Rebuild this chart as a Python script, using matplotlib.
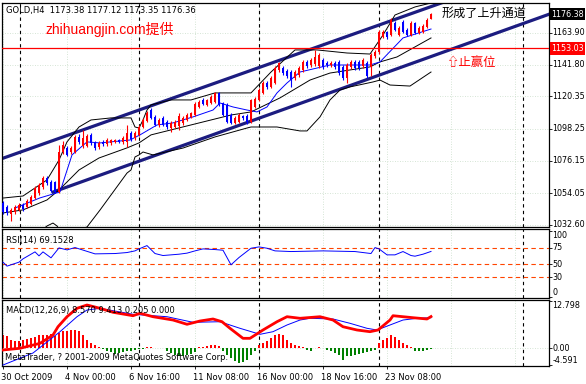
import matplotlib
matplotlib.use('Agg')
from matplotlib import pyplot as plt

plt.rcParams['font.family'] = ['DejaVu Sans', 'Noto Sans CJK SC']
plt.rcParams['font.size'] = 6

# GOLD H4 candles, bar 0 = 30 Oct 2009
opens = [1047.3, 1044.6, 1039.8, 1041.2, 1042.6, 1046.0, 1044.6, 1046.7, 1050.8, 1054.2,
         1058.3, 1064.4, 1061.7, 1061.7, 1054.9, 1082.2, 1085.0, 1082.2, 1082.2, 1092.5,
         1086.3, 1086.3, 1093.9, 1088.4, 1085.7, 1089.1, 1087.7, 1088.4, 1089.1, 1090.4,
         1089.1, 1089.1, 1095.2, 1091.8, 1093.9, 1099.3, 1103.4, 1110.9, 1106.2, 1100.7,
         1105.5, 1102.8, 1098.6, 1099.3, 1100.0, 1102.1, 1104.1, 1106.2, 1107.5, 1113.0,
         1117.8, 1114.4, 1115.7, 1116.4, 1122.6, 1115.7, 1114.4, 1107.5, 1102.1, 1102.8,
         1106.9, 1106.9, 1102.8, 1113.0, 1117.8, 1122.6, 1129.4, 1126.7, 1129.4, 1138.3,
         1139.7, 1137.6, 1136.9, 1132.8, 1134.9, 1138.3, 1143.8, 1141.7, 1142.4, 1141.0,
         1145.2, 1143.1, 1141.7, 1143.1, 1143.8, 1140.4, 1132.8, 1140.4, 1143.8, 1143.8,
         1141.0, 1143.1, 1140.4, 1147.9, 1150.6, 1160.9, 1164.3, 1162.2, 1170.4, 1162.2,
         1171.1, 1165.6, 1162.2, 1170.4, 1163.6, 1164.3, 1167.7, 1173.38]
highs = [1048.7, 1046.0, 1043.9, 1046.0, 1047.3, 1047.3, 1050.1, 1052.8, 1059.0, 1061.0,
         1065.8, 1065.8, 1063.1, 1062.4, 1087.0, 1089.8, 1086.3, 1086.3, 1093.9, 1094.5,
         1097.3, 1094.5, 1095.2, 1089.8, 1089.8, 1090.4, 1091.8, 1091.1, 1091.1, 1091.1,
         1093.2, 1100.7, 1096.6, 1096.6, 1100.7, 1105.5, 1110.3, 1112.3, 1107.5, 1105.5,
         1106.9, 1104.1, 1103.4, 1104.1, 1108.9, 1106.9, 1108.9, 1109.6, 1116.4, 1117.8,
         1119.2, 1118.5, 1121.2, 1123.3, 1123.3, 1116.4, 1115.7, 1108.9, 1106.9, 1108.9,
         1107.5, 1108.2, 1118.5, 1119.9, 1126.0, 1130.8, 1130.8, 1134.2, 1141.0, 1143.8,
         1141.0, 1139.0, 1138.3, 1138.3, 1141.0, 1145.2, 1145.2, 1146.5, 1152.0, 1149.9,
         1146.5, 1144.5, 1144.5, 1144.5, 1145.2, 1141.7, 1143.1, 1145.2, 1145.2, 1145.2,
         1146.5, 1144.5, 1149.9, 1152.0, 1165.6, 1165.6, 1165.0, 1173.9, 1171.8, 1168.4,
         1172.5, 1167.0, 1171.8, 1171.1, 1168.4, 1169.7, 1173.9, 1177.12]
lows = [1039.8, 1039.1, 1035.0, 1039.8, 1041.9, 1041.9, 1043.9, 1046.0, 1050.1, 1052.8,
        1056.9, 1059.7, 1054.9, 1054.2, 1054.2, 1080.9, 1079.5, 1080.9, 1081.5, 1087.7,
        1085.0, 1085.7, 1087.0, 1083.6, 1084.3, 1086.3, 1086.3, 1087.0, 1088.4, 1088.4,
        1087.7, 1085.7, 1089.8, 1090.4, 1093.2, 1098.6, 1102.8, 1104.8, 1100.0, 1099.3,
        1100.0, 1098.0, 1095.9, 1098.6, 1097.3, 1100.7, 1103.4, 1105.5, 1106.9, 1112.3,
        1114.4, 1113.7, 1115.1, 1115.7, 1113.7, 1106.9, 1102.1, 1101.4, 1101.4, 1102.1,
        1104.1, 1101.4, 1102.1, 1112.3, 1117.1, 1121.9, 1125.3, 1126.0, 1128.7, 1136.9,
        1134.9, 1132.8, 1126.7, 1131.5, 1133.5, 1136.9, 1139.7, 1140.4, 1141.0, 1139.7,
        1139.0, 1140.4, 1140.4, 1139.0, 1134.9, 1131.5, 1129.4, 1139.0, 1138.3, 1138.3,
        1139.7, 1132.8, 1134.2, 1146.5, 1149.2, 1160.2, 1159.5, 1161.5, 1165.0, 1161.5,
        1163.6, 1161.5, 1161.5, 1162.9, 1162.9, 1163.6, 1167.0, 1173.35]
closes = [1041.2, 1040.5, 1042.6, 1044.6, 1046.0, 1043.2, 1048.7, 1051.5, 1057.6, 1059.7,
          1064.4, 1061.0, 1055.6, 1054.9, 1082.2, 1087.0, 1080.2, 1085.0, 1092.5, 1089.1,
          1091.8, 1093.2, 1088.4, 1085.0, 1088.4, 1087.7, 1090.4, 1090.4, 1090.4, 1089.1,
          1091.8, 1095.2, 1091.1, 1095.2, 1099.3, 1104.1, 1108.9, 1105.5, 1100.7, 1104.1,
          1100.7, 1099.3, 1102.1, 1102.8, 1106.9, 1105.5, 1107.5, 1108.9, 1115.1, 1116.4,
          1115.1, 1117.8, 1119.9, 1122.6, 1114.4, 1107.5, 1102.8, 1102.1, 1105.5, 1107.5,
          1105.5, 1102.8, 1117.8, 1118.5, 1124.6, 1129.4, 1126.7, 1132.8, 1139.7, 1143.1,
          1136.3, 1134.2, 1131.5, 1136.9, 1139.7, 1143.8, 1141.0, 1145.2, 1147.2, 1148.6,
          1140.4, 1141.7, 1143.1, 1140.4, 1136.3, 1132.8, 1141.7, 1143.8, 1139.7, 1139.7,
          1145.2, 1134.2, 1148.6, 1150.6, 1164.3, 1164.3, 1160.9, 1172.5, 1165.6, 1167.0,
          1164.3, 1162.2, 1170.4, 1163.6, 1167.0, 1168.4, 1172.5, 1176.36]

# indicator lines read at sample bars
ma_idx = [3, 9.25, 14.25, 17.25, 21, 24.25, 31.75, 34.25, 38.5, 42.5, 47.5, 52.5, 54.25,
          57.5, 61, 63.5, 66, 68.5, 71, 74.25, 81.75, 91.75, 94.25, 100, 107]
ma_val = [1043.9, 1050.8, 1054.9, 1080.2, 1089.1, 1088.4, 1090.4, 1093.9, 1100.7, 1102.1,
          1106.2, 1110.9, 1115.7, 1113.0, 1110.9, 1109.6, 1113.0, 1122.6, 1129.4, 1136.9,
          1141.7, 1141.7, 1143.8, 1160.2, 1166.3]
bb_up_idx = [0, 5, 8, 11, 14, 16, 19, 22, 27, 31, 32, 33, 34, 35, 36, 37, 42, 47, 53, 62,
             67, 73, 78.5, 86, 91.75, 95, 98, 103, 107]
bb_up_val = [1050.7, 1052.1, 1057.6, 1063.1, 1076.7, 1089.1, 1099.3, 1104.1, 1105.5, 1105.5,
             1105.5, 1099.3, 1098.6, 1104.1, 1110.9, 1114.4, 1117.8, 1117.8, 1122.6, 1122.6,
             1136.9, 1152.0, 1152.0, 1149.9, 1149.2, 1162.2, 1175.9, 1181.4, 1184.1]
bb_mid_idx = [0, 5, 11, 14, 19, 24, 31, 34, 37, 47, 57, 62, 69.25, 76.75, 81.75, 91.75,
              94.25, 98.5, 107]
bb_mid_val = [1040.5, 1042.6, 1049.4, 1056.2, 1069.9, 1078.1, 1085.0, 1088.4, 1093.9, 1100.7,
              1107.5, 1109.6, 1119.2, 1131.4, 1136.2, 1140.4, 1143.8, 1147.2, 1160.2]
bb_lo_idx = [9.25, 11, 12.5, 13.5, 15, 21, 24.25, 31, 32, 33, 34, 35, 37.5, 45, 53, 61, 62,
             68.5, 74.25, 76, 79.25, 81.75, 84.25, 86.75, 92.5, 94.25, 96.75, 101.75, 107]
bb_lo_val = [1027.5, 1031.6, 1033.6, 1031.6, 1025.4, 1030.9, 1042.5, 1067.8, 1069.9, 1078.8,
             1080.2, 1082.2, 1080.2, 1084.9, 1092.5, 1098.6, 1099.3, 1099.3, 1096.6, 1096.6,
             1106.2, 1117.8, 1124.6, 1126.7, 1130.1, 1131.4, 1128.0, 1127.3, 1136.9]

# channel trend lines (bar, price)
chan_up = [(-0.25, 1077.7), (136.5, 1210.2)]
chan_lo = [(12.5, 1054.8), (136.5, 1176.4)]
stop_level = 1153.03
last_price = 1176.38

rsi_idx = [0, 1, 2, 4, 5, 7, 8, 9, 10, 12, 13, 14, 16, 18, 21, 23, 28, 31, 33, 34, 36, 38,
           40, 44, 46, 48, 50, 53, 55, 57, 59, 62, 64, 66, 68, 72, 80, 88, 92, 93, 94, 96,
           98, 100, 102, 103, 105, 107]
rsi_val = [53, 47, 49, 53, 58, 65, 68.5, 62.5, 68.5, 59.5, 67, 74.5, 71.5, 75, 69.3, 65.5,
           66, 67.5, 70, 73, 78, 66, 63, 65, 66.6, 70, 73, 72, 71, 49, 60, 74, 76, 74, 70,
           69, 70, 69, 66, 75, 73, 64, 64, 69, 63, 62, 65, 69.15]
rsi_levels = [75, 50, 30]

macd_idx = [0, 4.25, 9.25, 12.5, 13.75, 16, 18.5, 21, 24.25, 27.5, 32.5, 34.25, 37.5, 42.5,
            46, 49.25, 52.5, 54.75, 56.75, 60, 61.75, 65, 68.5, 71, 74.25, 79.25, 82.5, 85,
            88.5, 91.75, 93.75, 96.75, 97.5, 102.5, 106, 107]
macd_val = [-0.5, -0.05, 1.30, 3.56, 5.81, 8.53, 10.81, 11.71, 10.81, 9.73, 8.80, 9.46, 8.53,
            7.63, 6.47, 7.36, 7.91, 7.17, 5.38, 2.66, 2.66, 4.92, 7.17, 8.53, 8.10, 8.53,
            7.63, 5.81, 4.92, 4.46, 4.92, 7.63, 8.80, 8.26, 7.91, 8.57]
sig_idx = [0, 7.5, 14.25, 18.5, 21, 24.25, 32.5, 41, 47.5, 54.25, 59.25, 64.25, 67.5, 71,
           74.25, 76.75, 82.5, 86.75, 91, 93.5, 96.75, 100, 103.5, 107]
sig_val = [-4.59, -1.33, 4.46, 8.53, 10.35, 10.81, 9.18, 8.53, 7.01, 7.17, 5.38, 3.75, 4.46,
           6.28, 7.63, 8.10, 7.91, 6.74, 5.38, 4.92, 6.28, 7.63, 8.10, 8.26]
hist = [3.62, 3.17, 2.27, 1.81, 1.81, 2.27, 2.45, 2.72, 2.90, 3.44, 3.62, 3.44, 3.81, 3.17,
        4.08, 4.71, 4.71, 4.98, 4.98, 4.53, 3.62, 2.27, 1.36, 0.72, 0.18, -0.18, -0.91, -1.18,
        -1.63, -1.45, -1.09, -0.91, -0.72, -0.45, -0.27, -0.18, 0.27, 0.27, 0.05, 0.05, -0.09,
        -0.72, -1.36, -1.99, -2.27, -2.27, -1.99, -1.63, -1.09, 0.18, 0.36, 0.45, 0.72, 0.91,
        0.45, -0.91, -1.81, -2.72, -3.62, -4.08, -3.90, -3.17, -1.99, -0.72, 0.91, 1.36, 1.81,
        2.72, 3.44, 3.81, 3.44, 2.27, 1.36, 0.91, 0.45, 0.18, -0.45, -0.72, 0.05, 0.18, 0.05,
        -0.45, -0.91, -1.36, -1.99, -3.17, -2.27, -2.08, -1.81, -1.63, -1.36, -1.09, -0.72,
        -0.45, 1.36, 2.27, 2.72, 3.44, 2.90, 2.27, 1.36, 0.91, 0.18, -0.72, -0.91, -0.72,
        -0.45, -0.18]

price_ticks = [1032.60, 1054.05, 1076.15, 1098.25, 1120.35, 1141.80, 1163.90]
date_pos = [0, 16, 32, 48, 64, 80, 96]
date_labels = ['30 Oct 2009', '4 Nov 00:00', '6 Nov 16:00', '11 Nov 08:00',
               '16 Nov 00:00', '18 Nov 16:00', '23 Nov 08:00']
week_sep = [4.25, 34, 64, 94, 130]
grid_x = [0, 16, 32, 48, 64, 80, 96, 112, 128]

UP, DN = '#ff0000', '#0000ff'
GRID = '#c8dcc8'
NAVY = '#1c1c80'

W, H = 586, 384
fig = plt.figure(figsize=(W / 100, H / 100), dpi=100)


def px_box(x0, y0, x1, y1):
    return [x0 / W, 1 - y1 / H, (x1 - x0) / W, (y1 - y0) / H]


ax = fig.add_axes(px_box(2, 3, 549, 227))
ax_rsi = fig.add_axes(px_box(2, 229, 549, 297.5))
ax_macd = fig.add_axes(px_box(2, 300, 549, 366))

ax.set_ylim(1030.9, 1184.1)
ax_rsi.set_ylim(-0.3, 103)
ax_macd.set_ylim(-4.86, 13.07)

for a in (ax, ax_rsi, ax_macd):
    a.set_xlim(-0.25, 136.5)
    for s in a.spines.values():
        s.set_linewidth(0.9)
        s.set_color('black')
    a.yaxis.tick_right()
    a.tick_params(axis='y', length=2.5, width=0.6, labelright=False, pad=1)
    a.tick_params(axis='x', bottom=False, labelbottom=False)
    for g in grid_x:
        a.axvline(g, color=GRID, ls=(0, (1, 2)), lw=0.6, zorder=0)
    for s in week_sep:
        a.axvline(s, color='black', ls=(0, (3, 3)), lw=0.8, zorder=1)


def right_label(a, y, text, va='center', **kw):
    a.annotate(text, xy=(1.0, y), xycoords=a.get_yaxis_transform(), xytext=(2.6, 0),
               textcoords='offset points', ha='left', va=va, fontsize=5.8,
               annotation_clip=False, **kw)


# ---- main price window
ax.set_yticks(price_ticks)
for p in price_ticks:
    ax.axhline(p, color=GRID, ls=(0, (1, 2)), lw=0.6, zorder=0)
    right_label(ax, p, '%.2f' % p)

ax.plot([c[0] for c in chan_up], [c[1] for c in chan_up], color=NAVY, lw=2.3, zorder=2)
ax.plot([c[0] for c in chan_lo], [c[1] for c in chan_lo], color=NAVY, lw=2.3, zorder=2)

ax.plot(bb_up_idx, bb_up_val, color='black', lw=0.7, zorder=3)
ax.plot(bb_mid_idx, bb_mid_val, color='black', lw=0.7, zorder=3)
ax.plot(bb_lo_idx, bb_lo_val, color='black', lw=0.7, zorder=3)
ax.plot(ma_idx, ma_val, color='#0000ff', lw=0.7, zorder=3)

n = len(closes)
idx = list(range(n))
cols = [UP if closes[i] >= opens[i] else DN for i in idx]
bottoms = [min(opens[i], closes[i]) for i in idx]
heights = [max(abs(closes[i] - opens[i]), 0.6) for i in idx]
ax.vlines(idx, lows, highs, colors=cols, lw=0.8, zorder=4)
ax.bar(idx, heights, bottom=bottoms, width=0.72, color=cols, lw=0, zorder=5)

ax.axhline(stop_level, color='#ff0000', lw=0.9, zorder=6)
for val, fc in ((last_price, 'black'), (stop_level, '#ff0000')):
    ax.annotate('%.2f' % val, xy=(1.0, val), xycoords=ax.get_yaxis_transform(),
                xytext=(1.6, 0), textcoords='offset points', ha='left', va='center',
                fontsize=5.8, color='white', annotation_clip=False,
                bbox=dict(boxstyle='square,pad=0.2', fc=fc, ec='none'))

fig.text(6 / W, 1 - 11 / H, 'GOLD,H4  1173.38 1177.12 1173.35 1176.36', fontsize=6,
         va='center', ha='left')
fig.text(45 / W, 1 - 29 / H, 'zhihuangjin.com提供', fontsize=10, color='#ff0000',
         va='center', ha='left', family=['Liberation Sans', 'Noto Sans CJK SC'])
fig.text(442 / W, 1 - 13 / H, '形成了上升通道', fontsize=8.7, color='black',
         va='center', ha='left', family=['Noto Sans CJK SC', 'DejaVu Sans'])
fig.text(446 / W, 1 - 62 / H, '⇧止赢位', fontsize=8.9, color='#ff0000',
         va='center', ha='left', family=['Noto Sans CJK SC', 'DejaVu Sans'])

# ---- RSI window
ax_rsi.set_yticks([0, 30, 50, 75, 100])
for lv in rsi_levels:
    ax_rsi.axhline(lv, color='#ff4500', ls=(0, (4, 3)), lw=0.8, zorder=1)
    right_label(ax_rsi, lv, str(lv))
right_label(ax_rsi, 100, '100', va='top')
right_label(ax_rsi, 0, '0', va='bottom')
ax_rsi.plot(rsi_idx, rsi_val, color='#0000ff', lw=0.7, zorder=3)
fig.text(6 / W, 1 - 240 / H, 'RSI(14) 69.1528', fontsize=6, va='center', ha='left')

# ---- MACD window
ax_macd.set_yticks([-4.591, 0, 12.798])
ax_macd.axhline(0, color=GRID, ls=(0, (1, 2)), lw=0.6, zorder=0)
right_label(ax_macd, 12.798, '12.798', va='top')
right_label(ax_macd, 0, '0.00')
right_label(ax_macd, -4.591, '-4.591', va='bottom')
hcols = ['#ff0000' if h > 0 else '#008000' for h in hist]
ax_macd.bar(idx, hist, width=0.72, color=hcols, lw=0, zorder=2)
ax_macd.plot(sig_idx, sig_val, color='#0000ff', lw=0.7, zorder=3)
ax_macd.plot(macd_idx, macd_val, color='#ff0000', lw=2.0, zorder=4)
fig.text(6 / W, 1 - 310 / H, 'MACD(12,26,9) 8.570 9.413 0.205 0.000', fontsize=6,
         va='center', ha='left')
fig.text(5 / W, 1 - 357 / H, 'MetaTrader, ? 2001-2009 MetaQuotes Software Corp.',
         fontsize=6, va='center', ha='left', zorder=10)

# date axis
ax_macd.set_xticks(date_pos)
ax_macd.tick_params(axis='x', bottom=True, length=2.5, width=0.6, labelbottom=False)
for p, lab in zip(date_pos, date_labels):
    ax_macd.text(p - 0.4, -0.1, lab, transform=ax_macd.get_xaxis_transform(), ha='left',
                 va='top', fontsize=6, clip_on=False)

fig.savefig('out.png', dpi=100)
